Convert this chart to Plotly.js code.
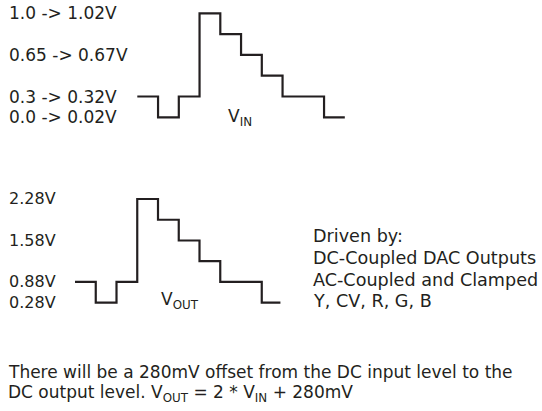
<!DOCTYPE html>
<html>
<head>
<meta charset="utf-8">
<script src="https://cdn.plot.ly/plotly-3.0.1.min.js"></script>
<style>
html,body{margin:0;padding:0;background:#ffffff;}
#chart{width:542px;height:411px;}
</style>
</head>
<body>
<div id="chart"></div>
<script>
// ---- Data ----
// time, in step periods; the last point closes the final step
const tIn  = [0, 1, 2, 3, 4, 5, 6, 7, 9, 10];
const vIn  = [0.3, 0.0, 0.3, 1.0, 0.825, 0.65, 0.475, 0.3, 0.0, 0.0];
const tOut = [0, 1, 2, 3, 4, 5, 6, 7, 9, 9.9];
const vOut = [0.88, 0.28, 0.88, 2.28, 1.93, 1.58, 1.23, 0.88, 0.28, 0.28];

// level labels
const inLabelVals  = [1.0, 0.65, 0.3, 0.0];
const inLabelText  = ["1.0 -> 1.02V", "0.65 -> 0.67V", "0.3 -> 0.32V", "0.0 -> 0.02V"];
const outLabelVals = [2.28, 1.58, 0.88, 0.28];
const outLabelText = ["2.28V", "1.58V", "0.88V", "0.28V"];

const drivenText = ["Driven by:", "DC-Coupled DAC Outputs", "AC-Coupled and Clamped", "Y, CV, R, G, B"];
const noteText = [
  "There will be a 280mV offset from the DC input level to the",
  "DC output level. V<sub>OUT</sub> = 2 * V<sub>IN</sub> + 280mV"
];

// ---- Helpers ----
const W = 542, H = 411;
const fmt = v => v.toFixed(3);
const levelsOf = arr => [...new Set(arr)].sort((a, b) => a - b).map(fmt);
const inCats = levelsOf(vIn);
const outCats = levelsOf(vOut);

// domain from pixel anchors: value v0 at pixel p0, v1 at pixel p1, range [r0, r1]
function xDom(p0, p1, v0, v1, r0, r1) {
  const k = (p1 - p0) / (v1 - v0);
  return [(p0 + (r0 - v0) * k) / W, (p0 + (r1 - v0) * k) / W];
}
function yDom(p0, p1, v0, v1, r0, r1) {
  const k = (p1 - p0) / (v1 - v0); // negative (pixels go down)
  const a = p0 + (r0 - v0) * k, b = p0 + (r1 - v0) * k;
  return [1 - a / H, 1 - b / H];
}

const INK = "#231f20";
const FONT = "DejaVu Sans, sans-serif";
const FS = 17;

const traces = [
  {x: tIn, y: vIn.map(fmt), type: "scatter", mode: "lines",
   line: {shape: "hv", color: INK, width: 2.2}, xaxis: "x", yaxis: "y", hoverinfo: "skip"},
  {x: tOut, y: vOut.map(fmt), type: "scatter", mode: "lines",
   line: {shape: "hv", color: INK, width: 2.2}, xaxis: "x2", yaxis: "y2", hoverinfo: "skip"}
];

const hidden = {showgrid: false, zeroline: false, showticklabels: false, showline: false, ticks: "", fixedrange: true};
const xr = [-0.3, 10.3], yr = [-0.3, inCats.length - 1 + 0.3];

const layout = {
  width: W, height: H,
  margin: {l: 0, r: 0, t: 0, b: 0},
  paper_bgcolor: "#ffffff", plot_bgcolor: "rgba(0,0,0,0)",
  showlegend: false,
  font: {family: FONT, size: FS, color: INK},
  xaxis: Object.assign({range: xr, domain: xDom(137.3, 344.8, 0, 10, xr[0], xr[1]), anchor: "y"}, hidden),
  yaxis: Object.assign({type: "category", categoryorder: "array", categoryarray: inCats, range: yr,
    domain: yDom(117.3, 13.3, 0, 5, yr[0], yr[1]), anchor: "x"}, hidden),
  xaxis2: Object.assign({range: xr, domain: xDom(75, 282.5, 0, 10, xr[0], xr[1]), anchor: "y2"}, hidden),
  yaxis2: Object.assign({type: "category", categoryorder: "array", categoryarray: outCats, range: yr,
    domain: yDom(302.7, 199, 0, 5, yr[0], yr[1]), anchor: "x2"}, hidden),
  annotations: []
};

const ann = (o, size) => Object.assign({showarrow: false, font: {family: FONT, size: size || FS, color: INK}}, o);

inLabelVals.forEach((v, i) => layout.annotations.push(ann({
  xref: "paper", x: 7 / W, xanchor: "left",
  yref: "y", y: inCats.indexOf(fmt(v)), yanchor: "middle", text: inLabelText[i]
})));
outLabelVals.forEach((v, i) => layout.annotations.push(ann({
  xref: "paper", x: 7 / W, xanchor: "left",
  yref: "y2", y: outCats.indexOf(fmt(v)), yanchor: "middle", text: outLabelText[i]
}, 16)));

// waveform names
layout.annotations.push(ann({xref: "paper", x: 226 / W, xanchor: "left",
  yref: "paper", y: 1 - 117 / H, yanchor: "middle", text: "V<sub>IN</sub>"}));
layout.annotations.push(ann({xref: "paper", x: 159 / W, xanchor: "left",
  yref: "paper", y: 1 - 300 / H, yanchor: "middle", text: "V<sub>OUT</sub>"}));

// right-hand block
const drivenY = [236, 258, 280, 301];
drivenText.forEach((t, i) => layout.annotations.push(ann({
  xref: "paper", x: 311 / W, xanchor: "left",
  yref: "paper", y: 1 - drivenY[i] / H, yanchor: "middle", text: t
}, 17.6)));

// bottom note
const noteY = [371.5, 393];
noteText.forEach((t, i) => layout.annotations.push(ann({
  xref: "paper", x: 6 / W, xanchor: "left",
  yref: "paper", y: 1 - noteY[i] / H, yanchor: "middle", text: t
})));

Plotly.newPlot("chart", traces, layout, {displayModeBar: false, staticPlot: true});
</script>
</body>
</html>
